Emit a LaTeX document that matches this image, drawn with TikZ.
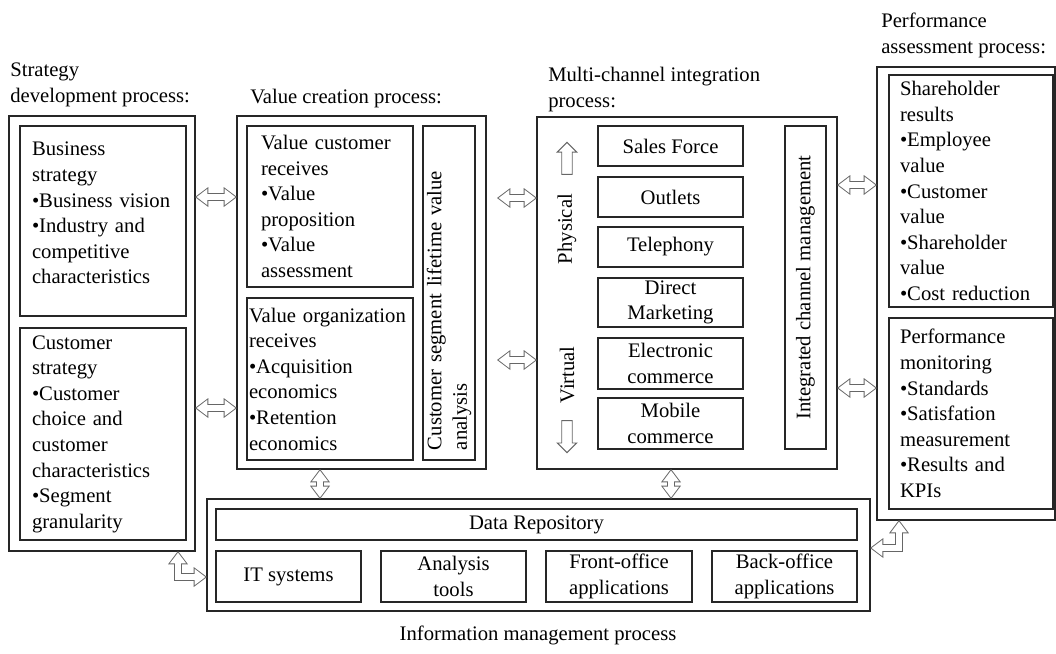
\documentclass[tikz,border=0pt]{standalone}
\usepackage{fontspec}
\setmainfont{Liberation Serif}
\usetikzlibrary{arrows.meta,shapes.arrows}

\begin{document}
\begin{tikzpicture}[x=0.75pt, y=-0.75pt,
        every node/.style={font=\fontsize{15.5}{19.2}\selectfont},
        frame/.style={draw=black!85, line width=1.1pt, inner sep=0pt, outer sep=0pt},
        box/.style 2 args={frame, minimum width=#1*0.75pt, minimum height=#2*0.75pt},
        bullets/.style={align=left, text width=#1*0.75pt},
        title/.style={anchor=base west, align=left, inner sep=0pt},
        tipout/.tip={Triangle[length=10pt, width=15pt, line width=0pt]},
        tipin/.tip={Triangle[length=8.1pt, width=12.2pt, line width=0pt]},
        link/.style={draw=black!60, line width=6.6pt, tipout-tipout,
            postaction={draw=white, line width=5.2pt, shorten <=1.2pt, shorten >=1.2pt, tipin-tipin}},
        arw/.style={single arrow, draw=black!60, line width=0.7pt, inner sep=3.6pt, minimum height=24pt, single arrow head extend=3.3pt, single arrow head indent=0pt},
        ]
        \useasboundingbox (0,0) rectangle (1056,653);

        \node[title] (sdt) at (10,102) {Strategy\\development process:};
        \node[box={186}{435}] (sdp) at (102,333.5) {};
        \node[box={166}{190}, bullets=142, text depth=108pt] (bs) at (103,221) {Business\\strategy\\•Business vision\\•Industry and\\competitive\\characteristics};
        \node[box={166}{212}, bullets=142] (cs) at (103,434) {Customer\\strategy\\•Customer\\choice and\\customer\\characteristics\\•Segment\\granularity};

        \node[title] (vct) at (250,103) {Value creation process:};
        \node[box={249}{353}] (vcp) at (361.5,292.5) {};
        \node[box={166}{161}, bullets=138] (vcr) at (330,206.5) {Value customer\\receives\\•Value\\proposition\\•Value\\assessment};
        \node[box={166}{162}, bullets=162] (vor) at (330,379) {Value organization\\receives\\•Acquisition\\economics\\•Retention\\economics};
        \node[box={334}{52}, rotate=90, bullets=314] (cslv) at (449,293) {Customer segment lifetime value\\analysis};
        \coordinate (vcg) at ([xshift=8.25pt]vcp.east);

        \node[title] (mct) at (548,107) {Multi-channel integration\\process:};
        \node[box={300}{352}] (mci) at (687,293) {};
        \node[box={145}{40}] (sf) at (670.5,146) {Sales Force};
        \node[box={145}{40}] (ou) at (670.5,197) {Outlets};
        \node[box={145}{40}] (te) at (670.5,247) {Telephony};
        \node[box={145}{49}, align=center] (dm) at (670.5,302.5) {Direct\\Marketing};
        \node[box={145}{51}, align=center] (ec) at (670.5,363.5) {Electronic\\commerce};
        \node[box={145}{51}, align=center] (mc) at (670.5,423.5) {Mobile\\commerce};
        \node[box={323}{41}, rotate=90] (icm) at (805.5,287.5) {Integrated channel management};
        \node[rotate=90] (phy) at (567,229) {Physical};
        \node[rotate=90] (vir) at (567,375) {Virtual};
        \node[arw, rotate=90] (up) at (567,161) {};
        \node[arw, rotate=-90] (dn) at (567,434) {};

        \node[title] (pat) at (881,53) {Performance\\assessment process:};
        \node[box={178}{453}] (pap) at (966,293.5) {};
        \node[box={164}{232}, bullets=142] (sr) at (971,191) {Shareholder\\results\\•Employee\\value\\•Customer\\value\\•Shareholder\\value\\•Cost reduction};
        \node[box={164}{191}, bullets=142] (pm) at (971,413.5) {Performance\\monitoring\\•Standards\\•Satisfation\\measurement\\•Results and\\KPIs};

        \node[box={663}{112}] (imp) at (538.5,555) {};
        \node[box={641}{31}] (dr) at (536.5,524.5) {Data Repository};
        \node[box={145}{51}, align=center] (its) at (288.5,576.5) {IT systems};
        \node[box={145}{51}, align=center] (ant) at (453.5,576.5) {Analysis\\tools};
        \node[box={146}{51}, align=center] (fo) at (619,576.5) {Front-office\\applications};
        \node[box={145}{51}, align=center] (bo) at (784.5,576.5) {Back-office\\applications};
        \node[anchor=base] (imt) at (538,640) {Information management process};

        \draw[link] (sdp.east |- 0,197) -- (vcp.west |- 0,197);
        \draw[link] (sdp.east |- 0,408) -- (vcp.west |- 0,408);
        \draw[link] (vcg |- 0,198) -- (mci.west |- 0,198);
        \draw[link] (vcg |- 0,360) -- (mci.west |- 0,360);
        \draw[link] (mci.east |- 0,185) -- (pap.west |- 0,185);
        \draw[link] (mci.east |- 0,388) -- (pap.west |- 0,388);
        \draw[link] (vcp.south -| 320,0) -- (imp.north -| 320,0);
        \draw[link] (mci.south -| 671,0) -- (imp.north -| 671,0);
        \draw[link] (sdp.south -| 178,0) |- (imp.west |- 0,577);
        \draw[link] (imp.east |- 0,548) -| (pap.south -| 899,0);
\end{tikzpicture}
\end{document}
